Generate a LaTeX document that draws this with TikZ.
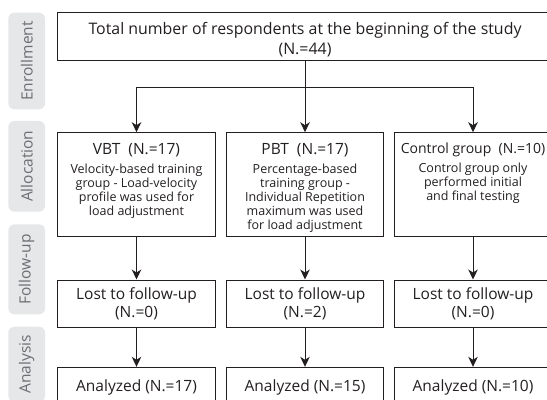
\documentclass[tikz,border=0pt]{standalone}
\usepackage{fontspec}
\setmainfont{Open Sans}
\usetikzlibrary{arrows.meta}
\definecolor{ink}{HTML}{231F20}
\definecolor{pillfill}{HTML}{E6E7E8}
\definecolor{pilltext}{HTML}{6D6E71}
\tikzset{
  box/.style={draw=ink, line width=1bp, minimum width=157.5bp, inner sep=0pt},
  txt/.style={text=ink, inner sep=0pt, align=center, font=\fontsize{15.5bp}{18.5bp}\selectfont},
  body/.style={text=ink, inner sep=0pt, align=center, anchor=north, font=\fontsize{12.5bp}{14bp}\selectfont},
  arr/.style={draw=ink, line width=1bp, -{Stealth[length=10bp,width=9.5bp,inset=3bp]}},
  pill/.style={fill=pillfill, rounded corners=6bp, inner sep=0pt, rotate=90, minimum height=36.7bp, text=pilltext, font=\fontsize{15.5bp}{17bp}\selectfont},
}
\begin{document}
\begin{tikzpicture}[x=1bp,y=-1bp]
\useasboundingbox (0,0) rectangle (547,399);
% stage labels
\node[pill, minimum width=96.6bp] (penr) at (26.7,61) {Enrollment};
\node[pill, minimum width=90.7bp] (palloc) at (26.7,166.3) {Allocation};
\node[pill, minimum width=90bp] (pfol) at (26.7,269.3) {Follow-up};
\node[pill, minimum width=75bp] (pana) at (26.7,364.2) {Analysis};
% enrollment
\node[box, minimum width=494.6bp, minimum height=48bp] (total) at (305,36.7) {};
\node[txt, anchor=north, font=\fontsize{15.9bp}{18bp}\selectfont] (totaltxt) at (305,21.8) {Total number of respondents at the beginning of the study\\[2.5bp](N.=44)};
% allocation
\node[box, minimum height=104bp] (vbt) at (136.5,184.7) {};
\node[box, minimum height=104bp] (pbt) at (305,184.7) {};
\node[box, minimum height=104bp] (ctl) at (473,184.7) {};
\node[body] (vbttxt) at (136.5,142.8) {{\fontsize{15.5bp}{17.5bp}\selectfont VBT\ \ (N.=17)}\\[5bp]Velocity-based training\\group - Load-velocity\\profile was used for\\load adjustment};
\node[body] (pbttxt) at (305,142.8) {{\fontsize{15.5bp}{17.5bp}\selectfont PBT\ \ (N.=17)}\\[5bp]Percentage-based\\training group -\\Individual Repetition\\maximum was used\\for load adjustment};
\node[body] (ctltxt) at (473,142.8) {{\fontsize{14bp}{17bp}\selectfont Control group\ \ (N.=10)}\\[5bp]Control group only\\performed initial\\and final testing};
% follow-up
\node[box, txt, minimum height=47.7bp] (f1) at (136.5,303.85) {Lost to follow-up\\(N.=0)};
\node[box, txt, minimum height=47.7bp] (f2) at (305,303.85) {Lost to follow-up\\(N.=2)};
\node[box, txt, minimum height=47.7bp] (f3) at (473,303.85) {Lost to follow-up\\(N.=0)};
% analysis
\node[box, txt, minimum height=41bp] (a1) at (136.5,387.8) {Analyzed (N.=17)};
\node[box, txt, minimum height=41bp] (a2) at (305,387.8) {Analyzed (N.=15)};
\node[box, txt, minimum height=41bp] (a3) at (473,387.8) {Analyzed (N.=10)};
% connectors
\coordinate (split) at (305,87.3);
\draw[arr] (total.south) -- (pbt.north);
\draw[arr] (split) -| (vbt.north);
\draw[arr] (split) -| (ctl.north);
\draw[arr] (vbt) -- (f1);
\draw[arr] (pbt) -- (f2);
\draw[arr] (ctl) -- (f3);
\draw[arr] (f1) -- (a1);
\draw[arr] (f2) -- (a2);
\draw[arr] (f3) -- (a3);
\end{tikzpicture}
\end{document}
